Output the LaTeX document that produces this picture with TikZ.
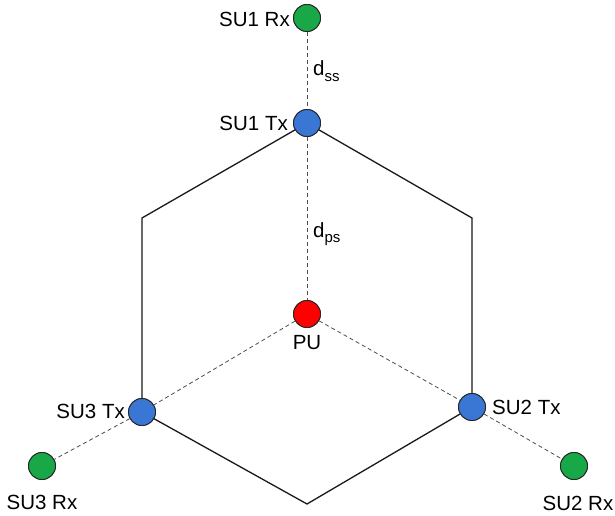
\documentclass[tikz,border=0pt]{standalone}
\usepackage{fontspec}
\setmainfont{Liberation Sans}
\newcommand{\mysub}[1]{\raisebox{-0.28em}{\fontsize{15}{17}\selectfont #1}}
\begin{document}
\begin{tikzpicture}[x=1pt,y=-1pt,
  dev/.style={circle,draw=black!85,line width=0.9pt,minimum size=27pt,inner sep=0pt},
  rx/.style={dev,fill={rgb,255:red,24;green,168;blue,72}},
  tx/.style={dev,fill={rgb,255:red,58;green,118;blue,212}},
  pu/.style={dev,fill={rgb,255:red,255;green,0;blue,0}},
  lbl/.style={inner sep=0pt,font=\fontsize{20.5}{24}\selectfont},
  hexline/.style={line width=1.3pt,black!90},
  link/.style={line width=0.8pt,black!70,dash pattern=on 4pt off 3pt}]
\useasboundingbox (0,0) rectangle (615,516);
% hexagon vertices
\coordinate (vt) at (307,123);
\coordinate (vur) at (472,218);
\coordinate (vlr) at (472,407);
\coordinate (vb) at (307,504);
\coordinate (vll) at (142,412);
\coordinate (vul) at (142,218);
\draw[hexline] (vt) -- (vur) -- (vlr) -- (vb) -- (vll) -- (vul) -- cycle;
% devices
\node[rx] (s1r) at (307,18) {};
\node[tx] (s1t) at (307,123) {};
\node[pu] (pu) at (307,314) {};
\node[tx] (s3t) at (142,412) {};
\node[rx] (s3r) at (42,466) {};
\node[tx] (s2t) at (472,407) {};
\node[rx] (s2r) at (574,466) {};
% links
\draw[link] (s1r) -- (s1t);
\draw[link] (s1t) -- (pu);
\draw[link] (pu) -- (s3t);
\draw[link] (s3t) -- (s3r);
\draw[link] (pu) -- (s2t);
\draw[link] (s2t) -- (s2r);
% redraw nodes on top
\node[rx] at (s1r) {};
\node[tx] at (s1t) {};
\node[pu] at (pu) {};
\node[tx] at (s3t) {};
\node[rx] at (s3r) {};
\node[tx] at (s2t) {};
\node[rx] at (s2r) {};
% labels
\node[lbl,anchor=east] (l1r) at (290,19) {SU1 Rx};
\node[lbl,anchor=east] (l1t) at (288,123) {SU1 Tx};
\node[lbl] (lpu) at (307,343) {PU};
\node[lbl,anchor=east] (l3t) at (125,411) {SU3 Tx};
\node[lbl] (l3r) at (42,502) {SU3 Rx};
\node[lbl,anchor=west] (l2t) at (492,407) {SU2 Tx};
\node[lbl] (l2r) at (578,503) {SU2 Rx};
\node[lbl,anchor=west] (dss) at (313,71) {d\mysub{ss}};
\node[lbl,anchor=west] (dps) at (313,234) {d\mysub{ps}};
\end{tikzpicture}
\end{document}
